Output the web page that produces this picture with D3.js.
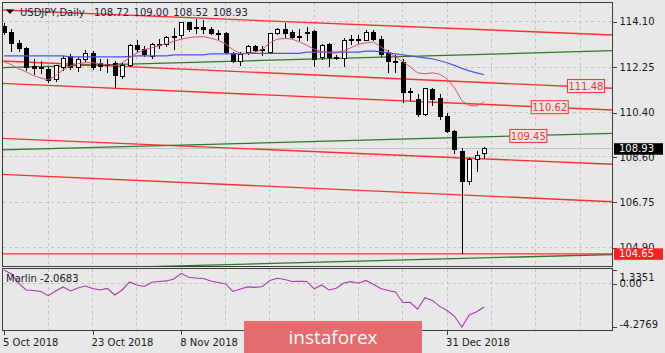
<!DOCTYPE html>
<html>
<head>
<meta charset="utf-8">
<script src="https://cdn.jsdelivr.net/npm/d3@7"></script>
<style>
  body { margin: 0; background: #e8e8e8; }
  svg { display: block; font-family: "DejaVu Sans", sans-serif; }
</style>
</head>
<body>
<div id="chart"></div>
<script>
// ---- data ----
const symbolName = "USDJPY,Daily";

const opens = [113.90, 113.65, 113.20, 113.00, 112.28, 112.18, 112.15, 111.75, 112.25, 112.68,
  112.22, 112.55, 112.80, 112.38, 112.35, 112.40, 111.85, 112.30, 113.12, 112.95,
  112.70, 113.15, 113.18, 113.45, 113.52, 114.05, 113.82, 113.85, 113.80, 113.62,
  113.62, 112.80, 112.50, 112.85, 113.08, 112.92, 112.85, 113.60, 113.78, 113.67,
  113.46, 113.62, 113.70, 112.65, 113.18, 112.65, 112.60, 113.35, 113.35, 113.35,
  113.65, 113.36, 112.85, 112.50, 112.44, 111.22, 110.92, 110.33, 111.32, 110.97,
  110.26, 109.61, 108.83, 107.61, 108.50, 108.72];
const highs = [114.05, 113.80, 113.35, 113.05, 112.60, 112.50, 112.25, 112.35, 112.70, 112.80,
  112.65, 112.95, 112.90, 112.60, 112.60, 112.50, 112.40, 113.20, 113.35, 113.10,
  113.25, 113.40, 113.50, 113.85, 114.08, 114.08, 114.20, 114.15, 113.90, 113.75,
  113.70, 112.85, 112.85, 113.15, 113.15, 113.10, 113.65, 113.85, 114.05, 113.75,
  113.80, 113.90, 113.75, 113.20, 113.25, 112.75, 113.45, 113.55, 113.55, 113.75,
  113.75, 113.50, 112.95, 112.74, 112.58, 111.42, 111.15, 111.42, 111.40, 111.15,
  110.40, 109.70, 108.95, 108.60, 108.85, 109.00];
const lows = [113.55, 112.85, 112.85, 112.10, 111.95, 111.98, 111.60, 111.65, 112.10, 112.15,
  112.05, 112.45, 112.15, 112.10, 112.00, 111.40, 111.75, 112.25, 112.85, 112.65,
  112.60, 113.00, 113.05, 112.95, 113.40, 113.70, 113.60, 113.60, 113.55, 113.35,
  112.80, 112.40, 112.30, 112.75, 112.85, 112.70, 112.80, 113.55, 113.45, 113.40,
  113.30, 113.30, 112.25, 112.55, 112.25, 112.55, 112.25, 113.15, 113.20, 113.30,
  113.30, 112.65, 112.03, 112.03, 110.80, 110.88, 110.24, 110.28, 110.68, 110.10,
  109.55, 108.70, 104.65, 107.45, 108.00, 108.52];
const closes = [113.65, 113.20, 113.00, 112.22, 112.20, 112.25, 111.72, 112.30, 112.62, 112.22,
  112.55, 112.80, 112.25, 112.28, 112.30, 111.90, 112.30, 113.12, 112.95, 112.78,
  113.18, 113.18, 113.45, 113.50, 114.05, 113.80, 113.85, 113.80, 113.60, 113.58,
  112.85, 112.50, 112.78, 113.08, 112.92, 112.95, 113.60, 113.80, 113.62, 113.46,
  113.50, 113.65, 112.58, 113.15, 112.65, 112.62, 113.35, 113.38, 113.38, 113.65,
  113.36, 112.78, 112.47, 112.48, 111.21, 111.24, 110.33, 111.38, 110.94, 110.23,
  109.61, 108.88, 107.61, 108.50, 108.67, 108.93];

// fast (pink) and slow (blue) moving averages
const maFast = [112.47, 112.35, 112.18, 112.06, 111.90, 111.81, 111.73, 111.90, 112.14, 112.30,
  112.39, 112.43, 112.43, 112.39, 112.35, 112.30, 112.43, 112.63, 112.83, 112.96,
  113.04, 113.12, 113.22, 113.30, 113.39, 113.45, 113.48, 113.49, 113.43, 113.34,
  113.20, 112.96, 112.81, 112.81, 112.86, 112.98, 113.24, 113.39, 113.42, 113.39,
  113.28, 113.14, 112.98, 112.88, 112.83, 112.82, 112.92, 113.04, 113.18, 113.24,
  113.28, 113.08, 112.88, 112.67, 112.47, 112.26, 112.02, 111.98, 112.02, 111.96,
  111.77, 111.41, 110.88, 110.69, 110.67, 110.83];
const maSlow = [112.71, 112.71, 112.71, 112.71, 112.71, 112.71, 112.71, 112.71, 112.71, 112.67,
  112.67, 112.67, 112.67, 112.67, 112.67, 112.67, 112.67, 112.69, 112.71, 112.71,
  112.71, 112.71, 112.71, 112.75, 112.75, 112.75, 112.75, 112.75, 112.79, 112.79,
  112.79, 112.79, 112.79, 112.81, 112.81, 112.81, 112.81, 112.81, 112.81, 112.81,
  112.81, 112.86, 112.86, 112.86, 112.86, 112.86, 112.86, 112.86, 112.86, 112.90,
  112.90, 112.88, 112.83, 112.79, 112.75, 112.71, 112.67, 112.63, 112.59, 112.51,
  112.43, 112.32, 112.20, 112.10, 112.02, 111.94];

// Marlin oscillator
const marlin = [1.3351, 0.95, 0.01, -0.63, -0.68, -0.78, -1.19, -0.73, -0.33, -0.73,
  -0.43, -0.24, -0.48, -0.63, -0.48, -1.12, -0.63, 0.16, -0.14, -0.29,
  0.13, 0.21, 0.26, 0.45, 1.01, 0.62, 0.55, 0.50, 0.26, 0.11,
  -0.04, -0.78, -0.53, -0.33, -0.38, -0.29, 0.31, 0.52, 0.40, 0.21,
  0.23, 0.21, -0.53, -0.14, -0.63, -0.46, 0.06, 0.19, 0.03, 0.31,
  -0.07, -0.48, -0.68, -0.83, -1.86, -1.84, -2.53, -1.39, -1.66, -2.25,
  -2.65, -3.22, -4.2769, -3.09, -2.77, -2.30];
const marlinLast = "-2.0683";

// trend channel lines: [[barIndex, price], [barIndex, price]]
const redLines = [
  [[-1, 114.584], [83, 113.551]],
  [[-1, 112.507], [83, 111.382]],
  [[-1, 111.599], [83, 110.498]],
  [[-1, 109.360], [83, 108.288]],
  [[-1, 107.894], [83, 106.765]],
];
const greenLines = [
  [[-1, 112.223], [83, 112.924]],
  [[-1, 108.873], [83, 109.561]],
  [[-1, 103.967], [83, 104.627]],
];
const supportLevel = 104.65;
const levelLabels = [111.48, 110.62, 109.45];
const levelLabelBars = [78.8, 73.9, 71.0];

const priceTicks = [114.10, 112.25, 110.40, 108.60, 106.75, 104.90];
const marlinTicks = [1.3351, 0, -4.2769];
// the 26 Nov / 12 Dec labels sit under the logo, only their ticks remain
const dateTickBars = [0, 12, 24, 36, 48, 60];
const dateLabels = ["5 Oct 2018", "23 Oct 2018", "8 Nov 2018", "", "", "31 Dec 2018"];

// ---- chart ----
class CandleChart {
  constructor() {
    this.colors = {
      background: "#e8e8e8",
      border: "#3c3c3c",
      grid: "#c4c4c4",
      text: "#1a1a1a",
      title: "#22223a",
      candle: "#000",
      bullBody: "#fff",
      maFast: "#e2506f",
      maSlow: "#4b52ee",
      red: "#ff2f2f",
      green: "#2c7c2c",
      marlin: "#a93aa9",
      bidLine: "#c4c4c4",
      priceBox: "#000",
      supportBox: "#ff1e1e",
      logo: "#e46c6c",
    };
    this.options = {
      width: 665,
      height: 353,
      left: 2.5,
      right: 612.5,
      mainTop: 2.5,
      mainBottom: 266.5,
      indTop: 268.5,
      indBottom: 330.5,
      firstBarX: 4,
      barStep: 7.385,
    };
  }

  draw() {
    const o = this.options;
    this.svg = d3.select("#chart").append("svg")
      .attr("width", o.width).attr("height", o.height);
    this.svg.append("rect").attr("width", o.width).attr("height", o.height)
      .attr("fill", this.colors.background);

    this.x = d3.scaleLinear().domain([0, 1]).range([o.firstBarX, o.firstBarX + o.barStep]);
    this.y = d3.scaleLinear().domain([104.90, 114.10]).range([247.7, 21.7]);
    this.yInd = d3.scaleLinear().domain([-4.2769, 1.3351]).range([327, 270]);

    this._clips();
    this._grid();
    this._channels();
    this._candles();
    this._movingAverages();
    this._marlin();
    this._borders();
    this._axes();
    this._labels();
    this._logo();
  }

  _clips() {
    const o = this.options;
    const defs = this.svg.append("defs");
    defs.append("clipPath").attr("id", "clipMain").append("rect")
      .attr("x", o.left).attr("y", o.mainTop)
      .attr("width", o.right - o.left).attr("height", o.mainBottom - o.mainTop);
    defs.append("clipPath").attr("id", "clipInd").append("rect")
      .attr("x", o.left).attr("y", o.indTop)
      .attr("width", o.right - o.left).attr("height", o.indBottom - o.indTop);
  }

  _grid() {
    const o = this.options;
    const g = this.svg.append("g").attr("stroke", this.colors.grid)
      .attr("stroke-dasharray", "3,3").attr("shape-rendering", "crispEdges");
    const gridBars = d3.range(6, 83, 6);
    g.selectAll("line.vm").data(gridBars).join("line")
      .attr("x1", (d) => this.x(d)).attr("x2", (d) => this.x(d))
      .attr("y1", o.mainTop).attr("y2", o.mainBottom);
    g.selectAll("line.vi").data(gridBars).join("line")
      .attr("x1", (d) => this.x(d)).attr("x2", (d) => this.x(d))
      .attr("y1", o.indTop).attr("y2", o.indBottom);
    g.selectAll("line.h").data(priceTicks).join("line")
      .attr("x1", o.left).attr("x2", o.right)
      .attr("y1", (d) => this.y(d)).attr("y2", (d) => this.y(d));
    g.append("line")
      .attr("x1", o.left).attr("x2", o.right)
      .attr("y1", this.yInd(0)).attr("y2", this.yInd(0));

    // bid line at last close
    const bid = this.y(closes[closes.length - 1]);
    this.svg.append("line")
      .attr("x1", o.left).attr("x2", o.right).attr("y1", bid).attr("y2", bid)
      .attr("stroke", this.colors.bidLine).attr("shape-rendering", "crispEdges");
  }

  _channels() {
    const o = this.options;
    const g = this.svg.append("g").attr("clip-path", "url(#clipMain)").attr("fill", "none");
    const line = d3.line().x((d) => this.x(d[0])).y((d) => this.y(d[1]));

    g.selectAll("path.red").data(redLines).join("path")
      .attr("d", line).attr("stroke", this.colors.red).attr("stroke-width", 1.4);
    g.selectAll("path.green").data(greenLines).join("path")
      .attr("d", line).attr("stroke", this.colors.green).attr("stroke-width", 1.3);
    g.append("line")
      .attr("x1", o.left).attr("x2", o.right)
      .attr("y1", this.y(supportLevel)).attr("y2", this.y(supportLevel))
      .attr("stroke", this.colors.red).attr("stroke-width", 1.4);
  }

  _candles() {
    const bars = opens.map((op, i) => ({ i, o: op, h: highs[i], l: lows[i], c: closes[i] }));
    const g = this.svg.append("g").attr("clip-path", "url(#clipMain)")
      .attr("shape-rendering", "crispEdges");

    const bar = g.selectAll("g").data(bars).join("g")
      .attr("transform", (d) => `translate(${Math.round(this.x(d.i)) + 0.5},0)`);

    bar.append("line")
      .attr("y1", (d) => this.y(d.h)).attr("y2", (d) => this.y(d.l))
      .attr("stroke", this.colors.candle);

    bar.append("rect")
      .attr("x", -2)
      .attr("width", 4)
      .attr("y", (d) => this.y(Math.max(d.o, d.c)))
      .attr("height", (d) => Math.max(1, Math.abs(this.y(d.o) - this.y(d.c))))
      .attr("fill", (d) => (d.c >= d.o ? this.colors.bullBody : this.colors.candle))
      .attr("stroke", this.colors.candle);
  }

  _movingAverages() {
    const g = this.svg.append("g").attr("clip-path", "url(#clipMain)").attr("fill", "none");
    const line = d3.line().x((d, i) => this.x(i)).y((d) => this.y(d));
    g.append("path").datum(maSlow).attr("d", line)
      .attr("stroke", this.colors.maSlow).attr("stroke-width", 1.2);
    g.append("path").datum(maFast).attr("d", line)
      .attr("stroke", this.colors.maFast).attr("stroke-width", 1);
  }

  _marlin() {
    const line = d3.line().x((d, i) => this.x(i)).y((d) => this.yInd(d));
    this.svg.append("g").attr("clip-path", "url(#clipInd)")
      .append("path").datum(marlin).attr("d", line)
      .attr("fill", "none").attr("stroke", this.colors.marlin).attr("stroke-width", 1.1);
  }

  _borders() {
    const o = this.options;
    const g = this.svg.append("g").attr("fill", "none").attr("stroke", this.colors.border)
      .attr("shape-rendering", "crispEdges");
    g.append("rect").attr("x", o.left).attr("y", o.mainTop)
      .attr("width", o.right - o.left).attr("height", o.mainBottom - o.mainTop);
    g.append("rect").attr("x", o.left).attr("y", o.indTop)
      .attr("width", o.right - o.left).attr("height", o.indBottom - o.indTop);
  }

  _axes() {
    const o = this.options;
    const style = (sel) => {
      sel.select(".domain").remove();
      sel.selectAll("line").attr("stroke", this.colors.border).attr("shape-rendering", "crispEdges");
      sel.selectAll("text").attr("fill", this.colors.text)
        .attr("font-family", "DejaVu Sans").attr("font-size", 10);
    };

    this.svg.append("g").attr("transform", `translate(${o.right},0)`)
      .call(d3.axisRight(this.y).tickValues(priceTicks).tickSize(4).tickPadding(3)
        .tickFormat(d3.format(".2f")))
      .call(style);

    const ind = this.svg.append("g").attr("transform", `translate(${o.right},0)`)
      .call(d3.axisRight(this.yInd).tickValues(marlinTicks).tickSize(4).tickPadding(3)
        .tickFormat((d) => (d === 0 ? "0.00" : d.toFixed(4))))
      .call(style);
    // max label sits under the top edge, min label above the bottom edge
    ind.selectAll(".tick text").attr("dy", (d) => (d > 0.5 ? "1.0em" : d < -1 ? "0em" : "0.32em"));

    this.svg.append("g").attr("transform", `translate(0,${o.indBottom})`)
      .call(d3.axisBottom(this.x).tickValues(dateTickBars).tickSize(4).tickPadding(4)
        .tickFormat((d, i) => dateLabels[i]))
      .call(style)
      .call((sel) => sel.selectAll("text").attr("text-anchor", "start").attr("x", -1.5));
  }

  _labels() {
    const o = this.options;
    const last = closes.length - 1;

    // title
    const t = this.svg.append("g").attr("font-size", 10).attr("fill", this.colors.title);
    t.append("path").attr("d", "M6,9.5 L14,9.5 L10,14 Z").attr("fill", "#000");
    t.append("text").attr("x", 20).attr("y", 16).text(symbolName);
    t.selectAll("text.ohlc")
      .data([opens[last], highs[last], lows[last], closes[last]])
      .join("text")
      .attr("x", (d, i) => 94 + i * 39.6).attr("y", 16)
      .text((d) => d.toFixed(2));

    // level boxes
    const lv = this.svg.append("g").selectAll("g").data(levelLabels).join("g")
      .attr("transform", (d, i) => `translate(${this.x(levelLabelBars[i])},${this.y(d)})`);
    lv.append("rect").attr("x", -18.5).attr("y", -6.5).attr("width", 37).attr("height", 13)
      .attr("fill", this.colors.background).attr("stroke", this.colors.red);
    lv.append("text").attr("text-anchor", "middle").attr("dy", "0.36em")
      .attr("font-size", 10).attr("fill", this.colors.red).text((d) => d.toFixed(2));

    // right-side price boxes
    const boxes = [
      { v: closes[last], fill: this.colors.priceBox },
      { v: supportLevel, fill: this.colors.supportBox },
    ];
    const b = this.svg.append("g").selectAll("g").data(boxes).join("g")
      .attr("transform", (d) => `translate(${o.right + 1.5},${this.y(d.v)})`);
    b.append("rect").attr("x", 0).attr("y", -5.5).attr("width", 49).attr("height", 11.5)
      .attr("fill", (d) => d.fill);
    b.append("text").attr("x", 5).attr("dy", "0.36em").attr("font-size", 10)
      .attr("fill", "#fff").text((d) => d.v.toFixed(2));

    // indicator caption
    this.svg.append("text").attr("x", 6).attr("y", 282).attr("font-size", 10)
      .attr("fill", this.colors.text).text("Marlin " + marlinLast);
  }

  _logo() {
    const g = this.svg.append("g");
    g.append("rect").attr("x", 244).attr("y", 321).attr("width", 178).attr("height", 34)
      .attr("fill", this.colors.logo);
    g.append("text").attr("x", 333).attr("y", 344).attr("text-anchor", "middle")
      .attr("font-family", "Open Sans").attr("font-size", 19).attr("fill", "#fff")
      .text("instaforex");
  }
}

new CandleChart().draw();
</script>
</body>
</html>
